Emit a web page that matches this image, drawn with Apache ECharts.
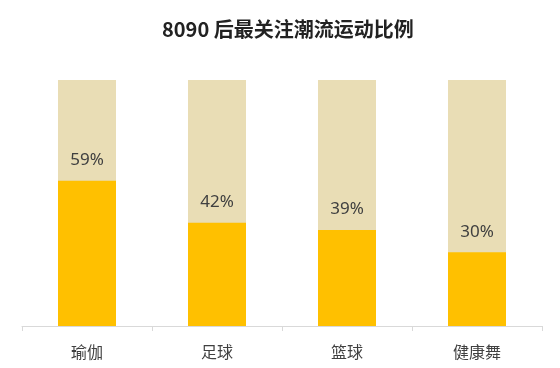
<!DOCTYPE html>
<html>
<head>
<meta charset="utf-8">
<script src="https://cdn.jsdelivr.net/npm/echarts@6/dist/echarts.min.js"></script>
<style>html,body{margin:0;padding:0;background:#fff}#c{width:560px;height:368px}</style>
</head>
<body>
<div id="c"></div>
<script>
var categories = ['瑜伽', '足球', '篮球', '健康舞'];
var values = [59, 42, 39, 30];
var titleText = '8090 后最关注潮流运动比例';

var chart = echarts.init(document.getElementById('c'), null, {renderer: 'canvas'});
chart.setOption({
  animation: false,
  backgroundColor: '#ffffff',
  title: {
    text: titleText,
    left: 157,
    top: 14,
    textStyle: {fontFamily: 'Noto Sans CJK SC', fontSize: 20, fontWeight: 'bold', color: '#222222'}
  },
  grid: {left: 22, right: 18, top: 80, bottom: 42},
  xAxis: {
    type: 'category',
    data: categories,
    axisLine: {lineStyle: {color: '#d9d9d9', width: 1}},
    axisTick: {show: true, length: 5, lineStyle: {color: '#d9d9d9'}},
    axisLabel: {margin: 18, fontFamily: 'Noto Sans CJK SC', fontSize: 16, color: '#404040'}
  },
  yAxis: {
    type: 'value', min: 0, max: 100,
    show: false,
    splitLine: {show: false}
  },
  series: [{
    type: 'bar',
    data: values,
    barWidth: 58,
    showBackground: true,
    backgroundStyle: {color: '#E9DDB5'},
    itemStyle: {color: '#FFC000'},
    label: {
      show: true,
      position: 'top',
      distance: 12,
      formatter: '{c}%',
      fontFamily: 'Noto Sans', fontSize: 17, color: '#404040'
    }
  }]
});
</script>
</body>
</html>
